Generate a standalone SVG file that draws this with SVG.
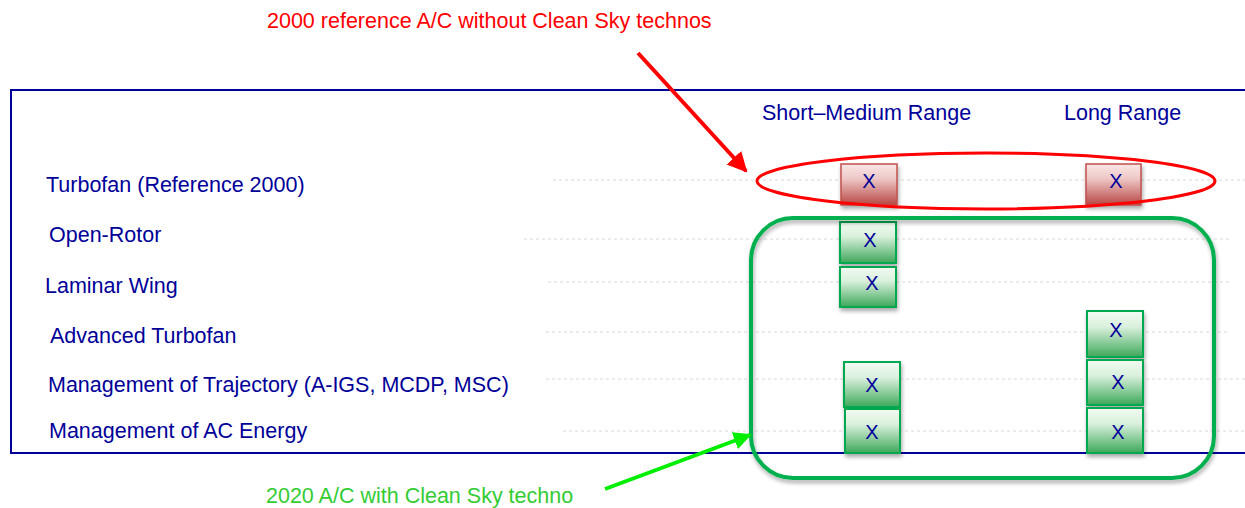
<svg xmlns="http://www.w3.org/2000/svg" width="1245" height="508" viewBox="0 0 1245 508">
<style>
.lbl{font-family:"Liberation Sans",Arial,sans-serif;font-size:21.5px;fill:#000099}
.x{font-family:"Liberation Sans",Arial,sans-serif;font-size:20px;fill:#000099;text-anchor:middle}
.grid{stroke:#d8d8d8;stroke-width:1;stroke-dasharray:3,3}
.rb{fill:url(#gr);stroke:#c0504d;stroke-width:1.5;filter:url(#sh)}
.gb{fill:url(#gg);stroke:#00a94f;stroke-width:2;filter:url(#sh)}
</style>
<defs>
<linearGradient id="gr" x1="0" y1="0" x2="0" y2="1"><stop offset="0" stop-color="#f9e6e6"/><stop offset="0.35" stop-color="#eec8c7"/><stop offset="1" stop-color="#b84744"/></linearGradient>
<linearGradient id="gg" x1="0" y1="0" x2="0" y2="1"><stop offset="0" stop-color="#f2fbf3"/><stop offset="0.35" stop-color="#d9f0dc"/><stop offset="1" stop-color="#3ea85a"/></linearGradient>
<filter id="sh" x="-20%" y="-20%" width="150%" height="150%"><feGaussianBlur in="SourceAlpha" stdDeviation="2"/><feOffset dx="1" dy="3"/><feComponentTransfer><feFuncA type="linear" slope="0.35"/></feComponentTransfer><feMerge><feMergeNode/><feMergeNode in="SourceGraphic"/></feMerge></filter>
<marker id="ar" viewBox="0 0 10 10" refX="9" refY="5" markerWidth="5" markerHeight="5" orient="auto" markerUnits="strokeWidth"><path d="M0,0 L10,5 L0,10 z" fill="#ff0000"/></marker>
<marker id="ag" viewBox="0 0 10 10" refX="9" refY="5" markerWidth="4.5" markerHeight="4.5" orient="auto" markerUnits="strokeWidth"><path d="M0,0 L10,5 L0,10 z" fill="#00ee00"/></marker>
</defs>
<g id="frame">
<path d="M1245,90 L11,90 L11,453 L1245,453" fill="none" stroke="#000099" stroke-width="2"/>
</g>
<g id="grid">
<line class="grid" x1="553" y1="180" x2="1245" y2="180"/>
<line class="grid" x1="524" y1="239" x2="1232" y2="239"/>
<line class="grid" x1="548" y1="282" x2="1232" y2="282"/>
<line class="grid" x1="546" y1="332" x2="1228" y2="332"/>
<line class="grid" x1="546" y1="379" x2="1245" y2="379"/>
<line class="grid" x1="563" y1="431" x2="1245" y2="431"/>
</g>
<g id="headers">
<text class="lbl" x="762" y="120">Short–Medium Range</text>
<text class="lbl" x="1064" y="120">Long Range</text>
</g>
<g id="rows">
<text class="lbl" x="46" y="192">Turbofan (Reference 2000)</text>
<text class="lbl" x="49" y="242">Open-Rotor</text>
<text class="lbl" x="45" y="293">Laminar Wing</text>
<text class="lbl" x="50" y="343">Advanced Turbofan</text>
<text class="lbl" x="48" y="392">Management of Trajectory (A-IGS, MCDP, MSC)</text>
<text class="lbl" x="49" y="438">Management of AC Energy</text>
</g>
<g id="ref-boxes">
<rect class="rb" x="841" y="164" width="56" height="41"/><text class="x" x="869" y="188">X</text>
<rect class="rb" x="1086" y="164" width="55" height="41"/><text class="x" x="1116" y="188">X</text>
</g>
<g id="cs-boxes">
<rect class="gb" x="840" y="222" width="56" height="41"/><text class="x" x="870" y="247">X</text>
<rect class="gb" x="840" y="267" width="56" height="40"/><text class="x" x="872" y="290">X</text>
<rect class="gb" x="1087" y="311" width="56" height="46"/><text class="x" x="1116" y="337">X</text>
<rect class="gb" x="1087" y="360" width="56" height="45"/><text class="x" x="1118" y="389">X</text>
<rect class="gb" x="1087" y="408" width="56" height="45"/><text class="x" x="1118" y="439">X</text>
<rect class="gb" x="844" y="362" width="56" height="45"/><text class="x" x="872" y="392">X</text>
<rect class="gb" x="845" y="409" width="55" height="44"/><text class="x" x="872" y="439">X</text>
</g>
<g id="groups">
<ellipse cx="986" cy="181" rx="229" ry="28" fill="none" stroke="#ff0000" stroke-width="3"/>
<rect x="751" y="218" width="463" height="260" rx="42" ry="42" fill="none" stroke="#00b050" stroke-width="4" filter="url(#sh)"/>
</g>
<g id="connectors">
<line x1="638" y1="53" x2="746" y2="171" stroke="#ff0000" stroke-width="4" marker-end="url(#ar)"/>
<line x1="605" y1="489" x2="750" y2="435" stroke="#00ee00" stroke-width="4" marker-end="url(#ag)"/>
</g>
<g id="annotations">
<text class="lbl" x="267" y="28" style="fill:#ff0000">2000 reference A/C without Clean Sky technos</text>
<text class="lbl" x="266" y="503" style="fill:#33cc33">2020 A/C with Clean Sky techno</text>
</g>
</svg>
